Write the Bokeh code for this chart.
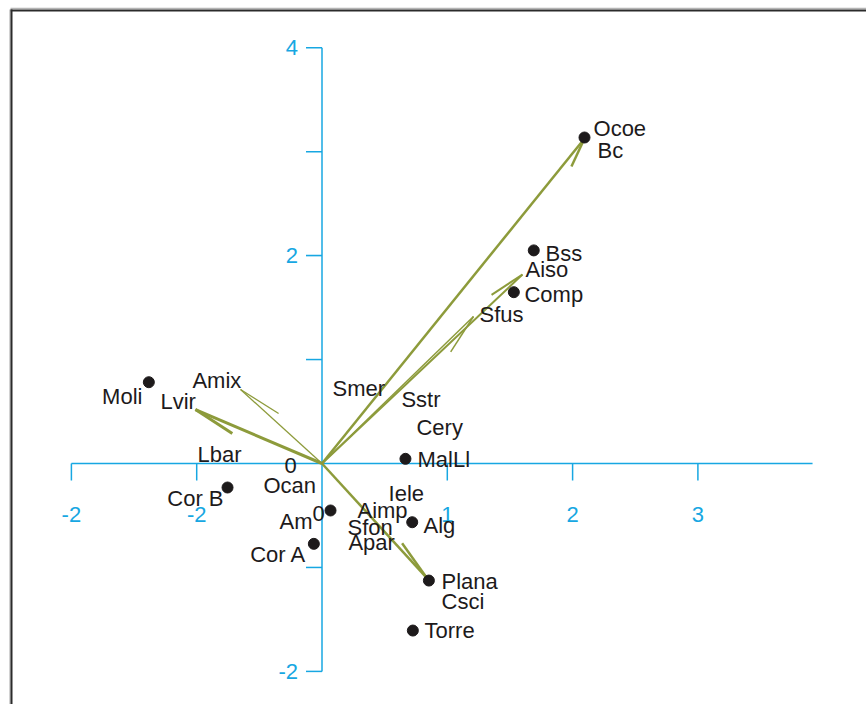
import math
from bokeh.plotting import figure
from bokeh.models import Range1d
from bokeh.core.properties import value
from bokeh.embed import file_html
from bokeh.resources import INLINE

# ---------------- data ----------------
# species points (black dots)
dot_names = ["Ocoe", "Bss", "Comp", "Moli", "Cor B", "MalLl", "Alg", "Am0", "Cor A", "Plana", "Torre"]
dot_x = [2.095, 1.690, 1.531, -1.382, -0.754, 0.666, 0.720, 0.068, -0.065, 0.853, 0.725]
dot_y = [3.136, 2.050, 1.648, 0.782, -0.231, 0.045, -0.565, -0.452, -0.773, -1.126, -1.607]

# labels anchored at their left edge
lab_left_text = ["Ocoe", "Bc", "Bss", "Aiso", "Comp", "Sfus", "Amix", "Lvir", "Lbar", "Smer",
                 "Sstr", "Cery", "MalLl", "Ocan", "Iele", "Aimp", "0", "Alg", "Sfon", "Apar",
                 "Plana", "Csci", "Torre"]
lab_left_x = [2.167, 2.199, 1.784, 1.624, 1.616, 1.257, -1.034, -1.289, -0.994, 0.084,
              0.634, 0.754, 0.762, -0.467, 0.531, 0.283, -0.076, 0.810, 0.204, 0.211,
              0.954, 0.954, 0.818]
lab_left_y = [3.223, 3.011, 2.020, 1.866, 1.626, 1.429, 0.798, 0.601, 0.087, 0.726,
              0.620, 0.342, 0.043, -0.207, -0.284, -0.452, -0.481, -0.596, -0.616, -0.760,
              -1.135, -1.332, -1.602]

# labels anchored at their right edge
lab_right_text = ["Moli", "Cor B", "Am", "Cor A"]
lab_right_x = [-1.433, -0.786, -0.076, -0.124]
lab_right_y = [0.649, -0.337, -0.558, -0.880]

# environmental vectors (from the origin)
arrow_names = ["Ocoe", "Aiso", "Sfus", "Lvir", "Amix", "Plana"]
arrow_x = [2.095, 1.600, 1.209, -1.010, -0.650, 0.834]
arrow_y = [3.127, 1.818, 1.414, 0.519, 0.712, -1.097]

# axis ticks
xtick_vals = [-2, -1, 0, 1, 2, 3]
xtick_labels = ["-2", "-2", "0", "1", "2", "3"]
ytick_vals = [-2, -1, 0, 1, 2, 3, 4]
ytick_labels = ["-2", "", "", "", "2", "", "4"]
x_axis_end = 3.915

# ---------------- styles ----------------
barb_rot = [-14, 10, -13, 10, -10, 7]      # degrees (screen)
barb_len = [31, 37, 42, 44, 45, 42]        # px
arrow_w = [2.5, 2.0, 1.5, 3.0, 1.3, 2.5]
ARROW_C = "#8d9b3b"
AXIS_C = "#17a7e2"
TEXT_C = "#1d1a1b"
FONT = value("Liberation Sans")
LAB_SIZE = "22px"
TICK_SIZE = "22px"

W, H = 866, 704
OX, OY = 321.5, 463.0      # origin in px
KX, KY = 125.3, 103.95     # px per data unit

def X(px):
    return (px - OX) / KX

def Y(py):
    return (OY - py) / KY

p = figure(width=W, height=H,
           x_range=Range1d(X(0), X(W)), y_range=Range1d(Y(H), Y(0)),
           output_backend="svg", toolbar_location=None, min_border=0,
           x_axis_location=None, y_axis_location=None)
p.grid.grid_line_color = None
p.outline_line_color = None
p.background_fill_color = "white"
p.border_fill_color = "white"

# frame (top + left border)
p.line([X(10), X(W)], [Y(8), Y(8)], line_color="#b5b5b5", line_width=1.5)
p.line([X(10), X(W)], [Y(10), Y(10)], line_color="#2b2b2b", line_width=2)
p.line([X(9.5), X(9.5)], [Y(9), Y(H)], line_color="#b5b5b5", line_width=1.2)
p.line([X(11), X(11)], [Y(9), Y(H)], line_color="#2b2b2b", line_width=2)

# axes
p.segment(x0=[min(xtick_vals)], y0=[0], x1=[x_axis_end], y1=[0], line_color=AXIS_C, line_width=1.5)
p.segment(x0=[0], y0=[min(ytick_vals)], x1=[0], y1=[max(ytick_vals)], line_color=AXIS_C, line_width=1.5)
xt = [v for v in xtick_vals if v != 0]
p.segment(x0=xt, y0=[0] * len(xt), x1=xt, y1=[-17 / KY] * len(xt), line_color=AXIS_C, line_width=1.5)
yt = [v for v in ytick_vals if v != 0]
p.segment(x0=[0] * len(yt), y0=yt, x1=[-16 / KX] * len(yt), y1=yt, line_color=AXIS_C, line_width=1.5)

xl_x = [v for v, l in zip(xtick_vals, xtick_labels) if v != 0]
xl_t = [l for v, l in zip(xtick_vals, xtick_labels) if v != 0]
p.text(x=xl_x, y=[-51 / KY] * len(xl_x), text=xl_t, text_font=FONT, text_font_size=TICK_SIZE,
       text_color=AXIS_C, text_align="center", text_baseline="middle")
zero_lab = [l for v, l in zip(xtick_vals, xtick_labels) if v == 0]
p.text(x=[-31.5 / KX], y=[-2 / KY], text=zero_lab, text_font=FONT, text_font_size=TICK_SIZE,
       text_color=TEXT_C, text_align="center", text_baseline="middle")
yl_y = [v for v, l in zip(ytick_vals, ytick_labels) if l]
yl_t = [l for v, l in zip(ytick_vals, ytick_labels) if l]
p.text(x=[-24 / KX] * len(yl_y), y=yl_y, text=yl_t, text_font=FONT, text_font_size=TICK_SIZE,
       text_color=AXIS_C, text_align="right", text_baseline="middle")

# arrows
for ax, ay, rot, L, w in zip(arrow_x, arrow_y, barb_rot, barb_len, arrow_w):
    sx, sy = ax * KX, -ay * KY
    back = math.atan2(-sy, -sx)
    a = back + math.radians(rot)
    bx, by = sx + L * math.cos(a), sy + L * math.sin(a)
    p.segment(x0=[0], y0=[0], x1=[ax], y1=[ay], line_color=ARROW_C, line_width=w)
    p.segment(x0=[ax], y0=[ay], x1=[bx / KX], y1=[-by / KY], line_color=ARROW_C, line_width=w)

# dots
p.scatter(x=dot_x, y=dot_y, size=11, color=TEXT_C)

# labels
p.text(x=lab_left_x, y=lab_left_y, text=lab_left_text, text_font=FONT, text_font_size=LAB_SIZE,
       text_color=TEXT_C, text_align="left", text_baseline="middle")
p.text(x=lab_right_x, y=lab_right_y, text=lab_right_text, text_font=FONT, text_font_size=LAB_SIZE,
       text_color=TEXT_C, text_align="right", text_baseline="middle")

open("out.html", "w").write(file_html(p, INLINE))
